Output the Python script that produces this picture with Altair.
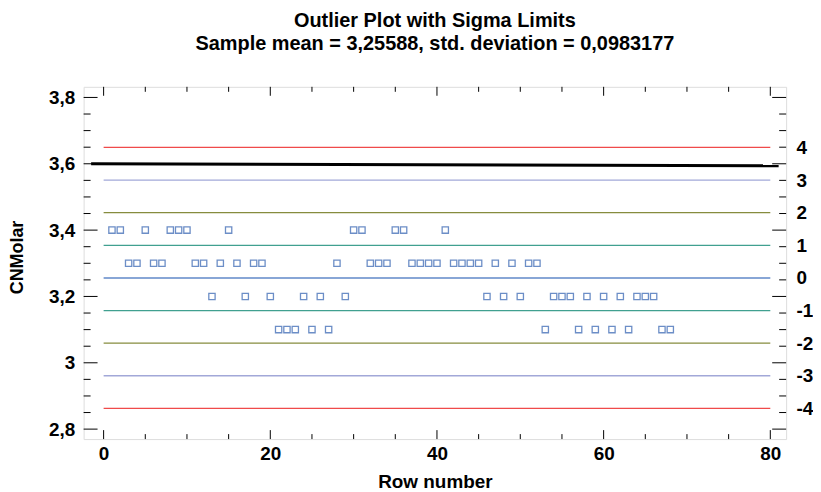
import altair as alt
import pandas as pd

# ---- data ----
rows = list(range(1, 69))
cnmolar = [3.4, 3.4, 3.3, 3.3, 3.4, 3.3, 3.3, 3.4, 3.4, 3.4,
           3.3, 3.3, 3.2, 3.3, 3.4, 3.3, 3.2, 3.3, 3.3, 3.2,
           3.1, 3.1, 3.1, 3.2, 3.1, 3.2, 3.1, 3.3, 3.2, 3.4,
           3.4, 3.3, 3.3, 3.3, 3.4, 3.4, 3.3, 3.3, 3.3, 3.3,
           3.4, 3.3, 3.3, 3.3, 3.3, 3.2, 3.3, 3.2, 3.3, 3.2,
           3.3, 3.3, 3.1, 3.2, 3.2, 3.2, 3.1, 3.2, 3.1, 3.2,
           3.1, 3.2, 3.1, 3.2, 3.2, 3.2, 3.1, 3.1]
mean = 3.25588
sd = 0.0983177
sigma_k = [-4, -3, -2, -1, 0, 1, 2, 3, 4]
sigma_colors = ["#f04a4a", "#a2a8d8", "#868c3e", "#40a090", "#88a6d6",
                "#40a090", "#868c3e", "#a2a8d8", "#f04a4a"]
sigma_x = [0, 80]
ref_x = [-1.5, 81]
ref_y = [3.600, 3.594]
y_major = [2.8, 3.0, 3.2, 3.4, 3.6, 3.8]
y_minor = [2.85, 2.9, 2.95, 3.05, 3.1, 3.15, 3.25, 3.3, 3.35, 3.45,
           3.5, 3.55, 3.65, 3.7, 3.75]
x_major = [0, 20, 40, 60, 80]
x_minor = [5, 10, 15, 25, 30, 35, 45, 50, 55, 65, 70, 75]

title_lines = ["Outlier Plot with Sigma Limits",
               "Sample mean = 3,25588, std. deviation = 0,0983177"]

# ---- layout ----
W, H = 706, 354
XD = [-2.4, 81.9]
YD = [2.77, 3.832]
FONT = "Liberation Sans"
FS = 19

xs = alt.Scale(domain=XD, nice=False, zero=False)
ys = alt.Scale(domain=YD, nice=False, zero=False)

pts = pd.DataFrame({"row": rows, "CNMolar": cnmolar})
sig = pd.DataFrame({
    "k": sigma_k,
    "y": [mean + k * sd for k in sigma_k],
    "x0": sigma_x[0],
    "x1": sigma_x[1],
    "w": [2.0 if k == 0 else 1.3 for k in sigma_k],
})
ref = pd.DataFrame({"x": ref_x, "y": ref_y})
ymaj = pd.DataFrame({"v": y_major})
ymin = pd.DataFrame({"v": y_minor})
xmaj = pd.DataFrame({"v": x_major})
xmin = pd.DataFrame({"v": x_minor})

lab = dict(labelFont=FONT, labelFontSize=FS, labelFontWeight="bold",
           labelColor="#000", ticks=False, tickSize=0, domain=False, grid=False)

x_axis = alt.Axis(
    orient="bottom", values=x_major, labelPadding=6, title="Row number",
    titleFont=FONT, titleFontSize=FS, titleFontWeight="bold", titleColor="#000",
    titleX=W / 2, titleY=43, titleBaseline="middle", **lab)

right_expr = f"toString(round((datum.value - {mean}) / {sd}))"

sigma_layer = alt.Chart(sig).mark_rule().encode(
    x=alt.X("x0:Q", scale=xs, axis=x_axis, title="Row number"),
    x2="x1:Q",
    y=alt.Y("y:Q", scale=ys, axis=alt.Axis(
        orient="right", values=[mean + k * sd for k in sigma_k],
        labelExpr=right_expr, labelPadding=10, labelAlign="left",
        labelBaseline="middle", title=None, **lab)),
    color=alt.Color("k:O", scale=alt.Scale(domain=sigma_k, range=sigma_colors), legend=None),
    strokeWidth=alt.StrokeWidth("w:Q", scale=None, legend=None),
)

ref_layer = alt.Chart(ref).mark_line(color="#000", strokeWidth=3).encode(
    x=alt.X("x:Q", scale=xs, axis=x_axis, title="Row number"),
    y=alt.Y("y:Q", scale=ys, axis=None),
)

pts_layer = alt.Chart(pts).mark_square(filled=False, size=40, strokeWidth=1.3,
                                       color="#2f5fb0").encode(
    x=alt.X("row:Q", scale=xs, axis=x_axis, title="Row number"),
    y=alt.Y("CNMolar:Q", scale=ys, axis=alt.Axis(
        orient="left", values=y_major,
        labelExpr="replace(toString(datum.value), '.', ',')",
        labelPadding=9, labelBaseline="middle", title="CNMolar",
        titleFont=FONT, titleFontSize=18, titleFontWeight="bold", titleColor="#000",
        titleAngle=270, titleX=-66, titleY=171, titleAlign="center",
        titleBaseline="middle", **lab)),
)


def ytick(df, x0, x1):
    return alt.Chart(df).mark_rule(color="#000", strokeWidth=1).encode(
        y=alt.Y("v:Q", scale=ys, axis=None),
        x=alt.value(x0), x2=alt.value(x1))


def xtick(df, y0, y1):
    return alt.Chart(df).mark_rule(color="#000", strokeWidth=1).encode(
        x=alt.X("v:Q", scale=xs, axis=x_axis, title="Row number"),
        y=alt.value(y0), y2=alt.value(y1))


ticks = [
    ytick(ymaj, 0, 14), ytick(ymin, 0, 7),
    ytick(ymaj, W - 14, W), ytick(ymin, W - 7, W),
    xtick(xmaj, H, H - 9), xtick(xmin, H, H - 5),
    xtick(xmaj, 0, 9), xtick(xmin, 0, 5),
]

chart = alt.layer(sigma_layer, ref_layer, pts_layer, *ticks).resolve_scale(
    y="independent"
).properties(
    width=W, height=H,
    title=alt.TitleParams(text=title_lines, font=FONT, fontSize=20,
                          fontWeight="bold", color="#000", lineHeight=24,
                          anchor="middle", offset=32),
    autosize=alt.AutoSizeParams(type="none"),
    padding={"left": 76, "top": 78, "right": 27, "bottom": 58},
).configure_view(stroke="#000", strokeWidth=1.3).configure(background="#fff")

chart.save("out.html", embed_options={"renderer": "svg", "actions": False})
